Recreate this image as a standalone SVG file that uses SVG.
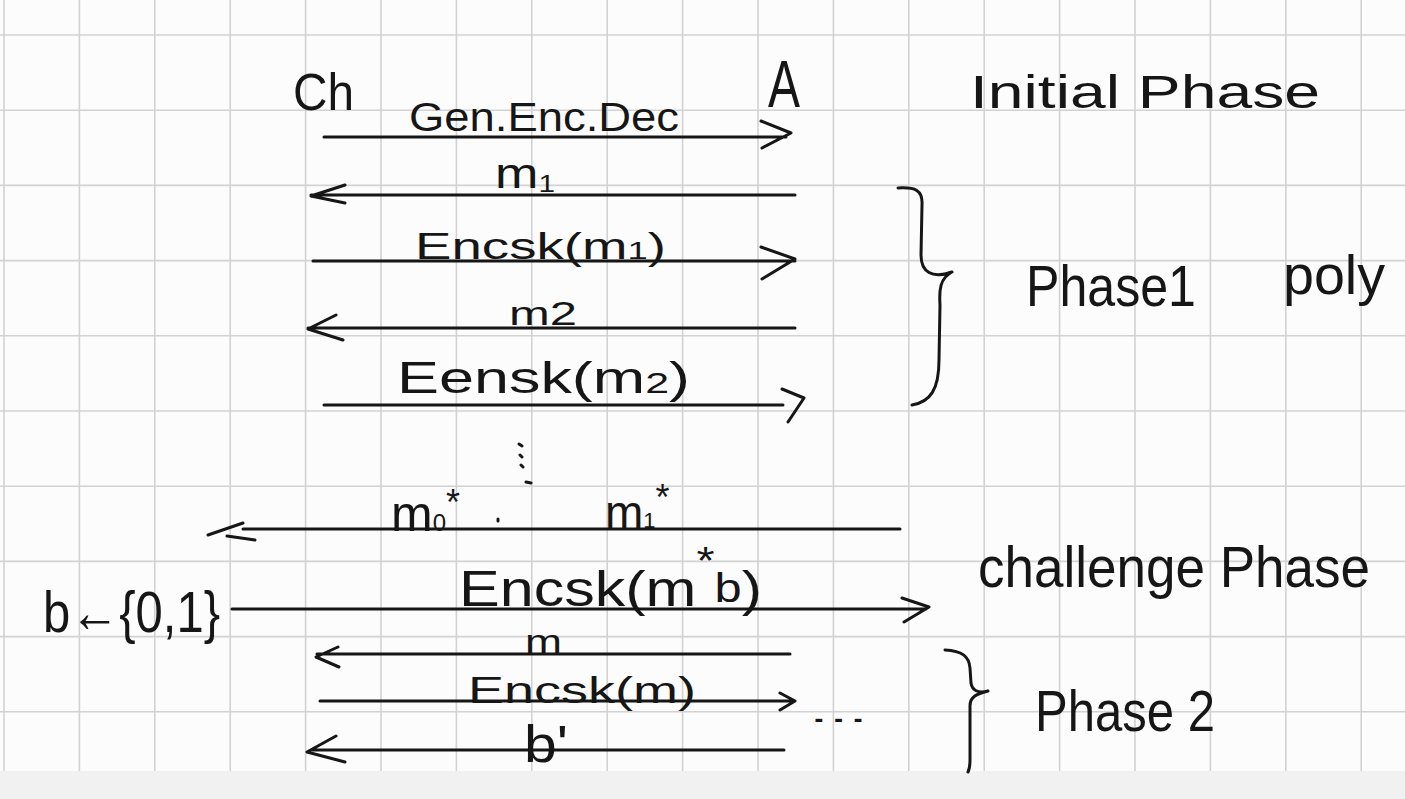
<svg xmlns="http://www.w3.org/2000/svg" width="1405" height="799" viewBox="0 0 1405 799">
<style>
.g{stroke:#d2d2d2;stroke-width:1.6;fill:none}
.c{stroke:#161616;stroke-width:3;fill:none;stroke-linecap:round;stroke-linejoin:round}
.t{font-family:"Liberation Sans",Arial,sans-serif;fill:#161616}
</style>
<rect x="0" y="0" width="1405" height="799" fill="#fcfcfc"/>
<g id="grid">
<path class="g" d="M4 0V771M79.4 0V771M154.8 0V771M230.2 0V771M305.6 0V771M381 0V771M456.4 0V771M531.8 0V771M607.2 0V771M682.6 0V771M758 0V771M833.4 0V771M908.8 0V771M984.2 0V771M1059.6 0V771M1135 0V771M1210.4 0V771M1285.8 0V771M1361.2 0V771"/>
<path class="g" d="M0 35H1405M0 110.2H1405M0 185.4H1405M0 260.6H1405M0 335.8H1405M0 411H1405M0 486.2H1405M0 561.4H1405M0 636.6H1405M0 711.8H1405"/>
</g>
<rect x="0" y="771" width="1405" height="28" fill="#f1f1f1"/>
<g id="node-ch"><text class="t" x="293" y="110" font-size="52" textLength="61" lengthAdjust="spacingAndGlyphs">Ch</text></g>
<g id="node-a"><text class="t" x="768" y="107" font-size="66" textLength="32" lengthAdjust="spacingAndGlyphs">A</text></g>
<g id="connectors">
<path class="c" d="M324 137H786M761 121L791 133L762 148"/>
<path class="c" d="M311 195H795M345 185L311 196L345 203"/>
<path class="c" d="M313 261H795M761 247L795 259L762 279"/>
<path class="c" d="M308 328H795M336 315L308 329L343 340"/>
<path class="c" d="M324 405H783M782 389L804 398L788 422"/>
<path class="c" d="M243 529H900M243 523L208 535M227 536L255 540"/>
<path class="c" d="M232 609H926M902 598L929 607L904 622"/>
<path class="c" d="M317 654H790M338 647L316 657L339 667"/>
<path class="c" d="M320 701H794M780 693L795 701L780 710"/>
<path class="c" d="M313 750H784M336 736L307 752L345 762"/>
</g>
<g id="labels">
<text class="t" x="409" y="131" font-size="40" textLength="270" lengthAdjust="spacingAndGlyphs">Gen.Enc.Dec</text>
<text class="t" x="495" y="188" font-size="42" textLength="60" lengthAdjust="spacingAndGlyphs">m<tspan font-size="24" dy="4">1</tspan></text>
<text class="t" x="415" y="259" font-size="36" textLength="251" lengthAdjust="spacingAndGlyphs">Encsk(m<tspan font-size="24">1</tspan>)</text>
<text class="t" x="509" y="325" font-size="34" textLength="68" lengthAdjust="spacingAndGlyphs">m2</text>
<text class="t" x="397" y="393" font-size="44" textLength="293" lengthAdjust="spacingAndGlyphs">Eensk(m<tspan font-size="30">2</tspan>)</text>
<text class="t" x="391" y="531" font-size="50">m<tspan font-size="24">0</tspan><tspan font-size="36" dy="-16">*</tspan></text>
<text class="t" x="605" y="528" font-size="46">m<tspan font-size="22">1</tspan><tspan font-size="36" dy="-18">*</tspan></text>
<text class="t" x="459" y="606" font-size="50" textLength="303" lengthAdjust="spacingAndGlyphs">Encsk(m<tspan font-size="38" dy="-32">*</tspan><tspan font-size="40" dy="28">b</tspan><tspan dy="4">)</tspan></text>
<text class="t" x="43" y="632" font-size="58" textLength="177" lengthAdjust="spacingAndGlyphs">b←{0,1}</text>
<text class="t" x="525" y="653" font-size="34" textLength="37" lengthAdjust="spacingAndGlyphs">m</text>
<text class="t" x="468" y="703" font-size="36" textLength="228" lengthAdjust="spacingAndGlyphs">Encsk(m)</text>
<text class="t" x="524" y="762" font-size="52" textLength="44" lengthAdjust="spacingAndGlyphs">b'</text>
<text class="t" x="809" y="722" font-size="30" textLength="59" lengthAdjust="spacingAndGlyphs">...</text>
</g>
<g id="ellipsis">
<path class="c" d="M519 444l3 2M520 455l2 2M521 465l2 2M526 482l5 1M498 519l0 2" stroke-width="2.5"/>
</g>
<g id="phase-initial"><text class="t" x="970" y="108" font-size="46" textLength="350" lengthAdjust="spacingAndGlyphs">Initial Phase</text></g>
<g id="phase-1">
<path class="c" d="M898 188C915 187 923 190 922 205L921 255C921 272 932 279 952 272C940 278 939 290 940 305L939 360C939 390 930 402 912 405"/>
<text class="t" x="1026" y="306" font-size="58" textLength="170" lengthAdjust="spacingAndGlyphs">Phase1</text>
<text class="t" x="1283" y="294" font-size="56" textLength="102" lengthAdjust="spacingAndGlyphs">poly</text>
</g>
<g id="phase-challenge"><text class="t" x="978" y="587" font-size="58" textLength="392" lengthAdjust="spacingAndGlyphs">challenge Phase</text></g>
<g id="phase-2">
<path class="c" d="M945 650C962 651 969 656 970 668L971 683C972 690 978 694 988 691C976 694 970 697 970 706L970 760C970 766 969 770 968 772"/>
<text class="t" x="1035" y="731" font-size="58" textLength="180" lengthAdjust="spacingAndGlyphs">Phase 2</text>
</g>
</svg>
